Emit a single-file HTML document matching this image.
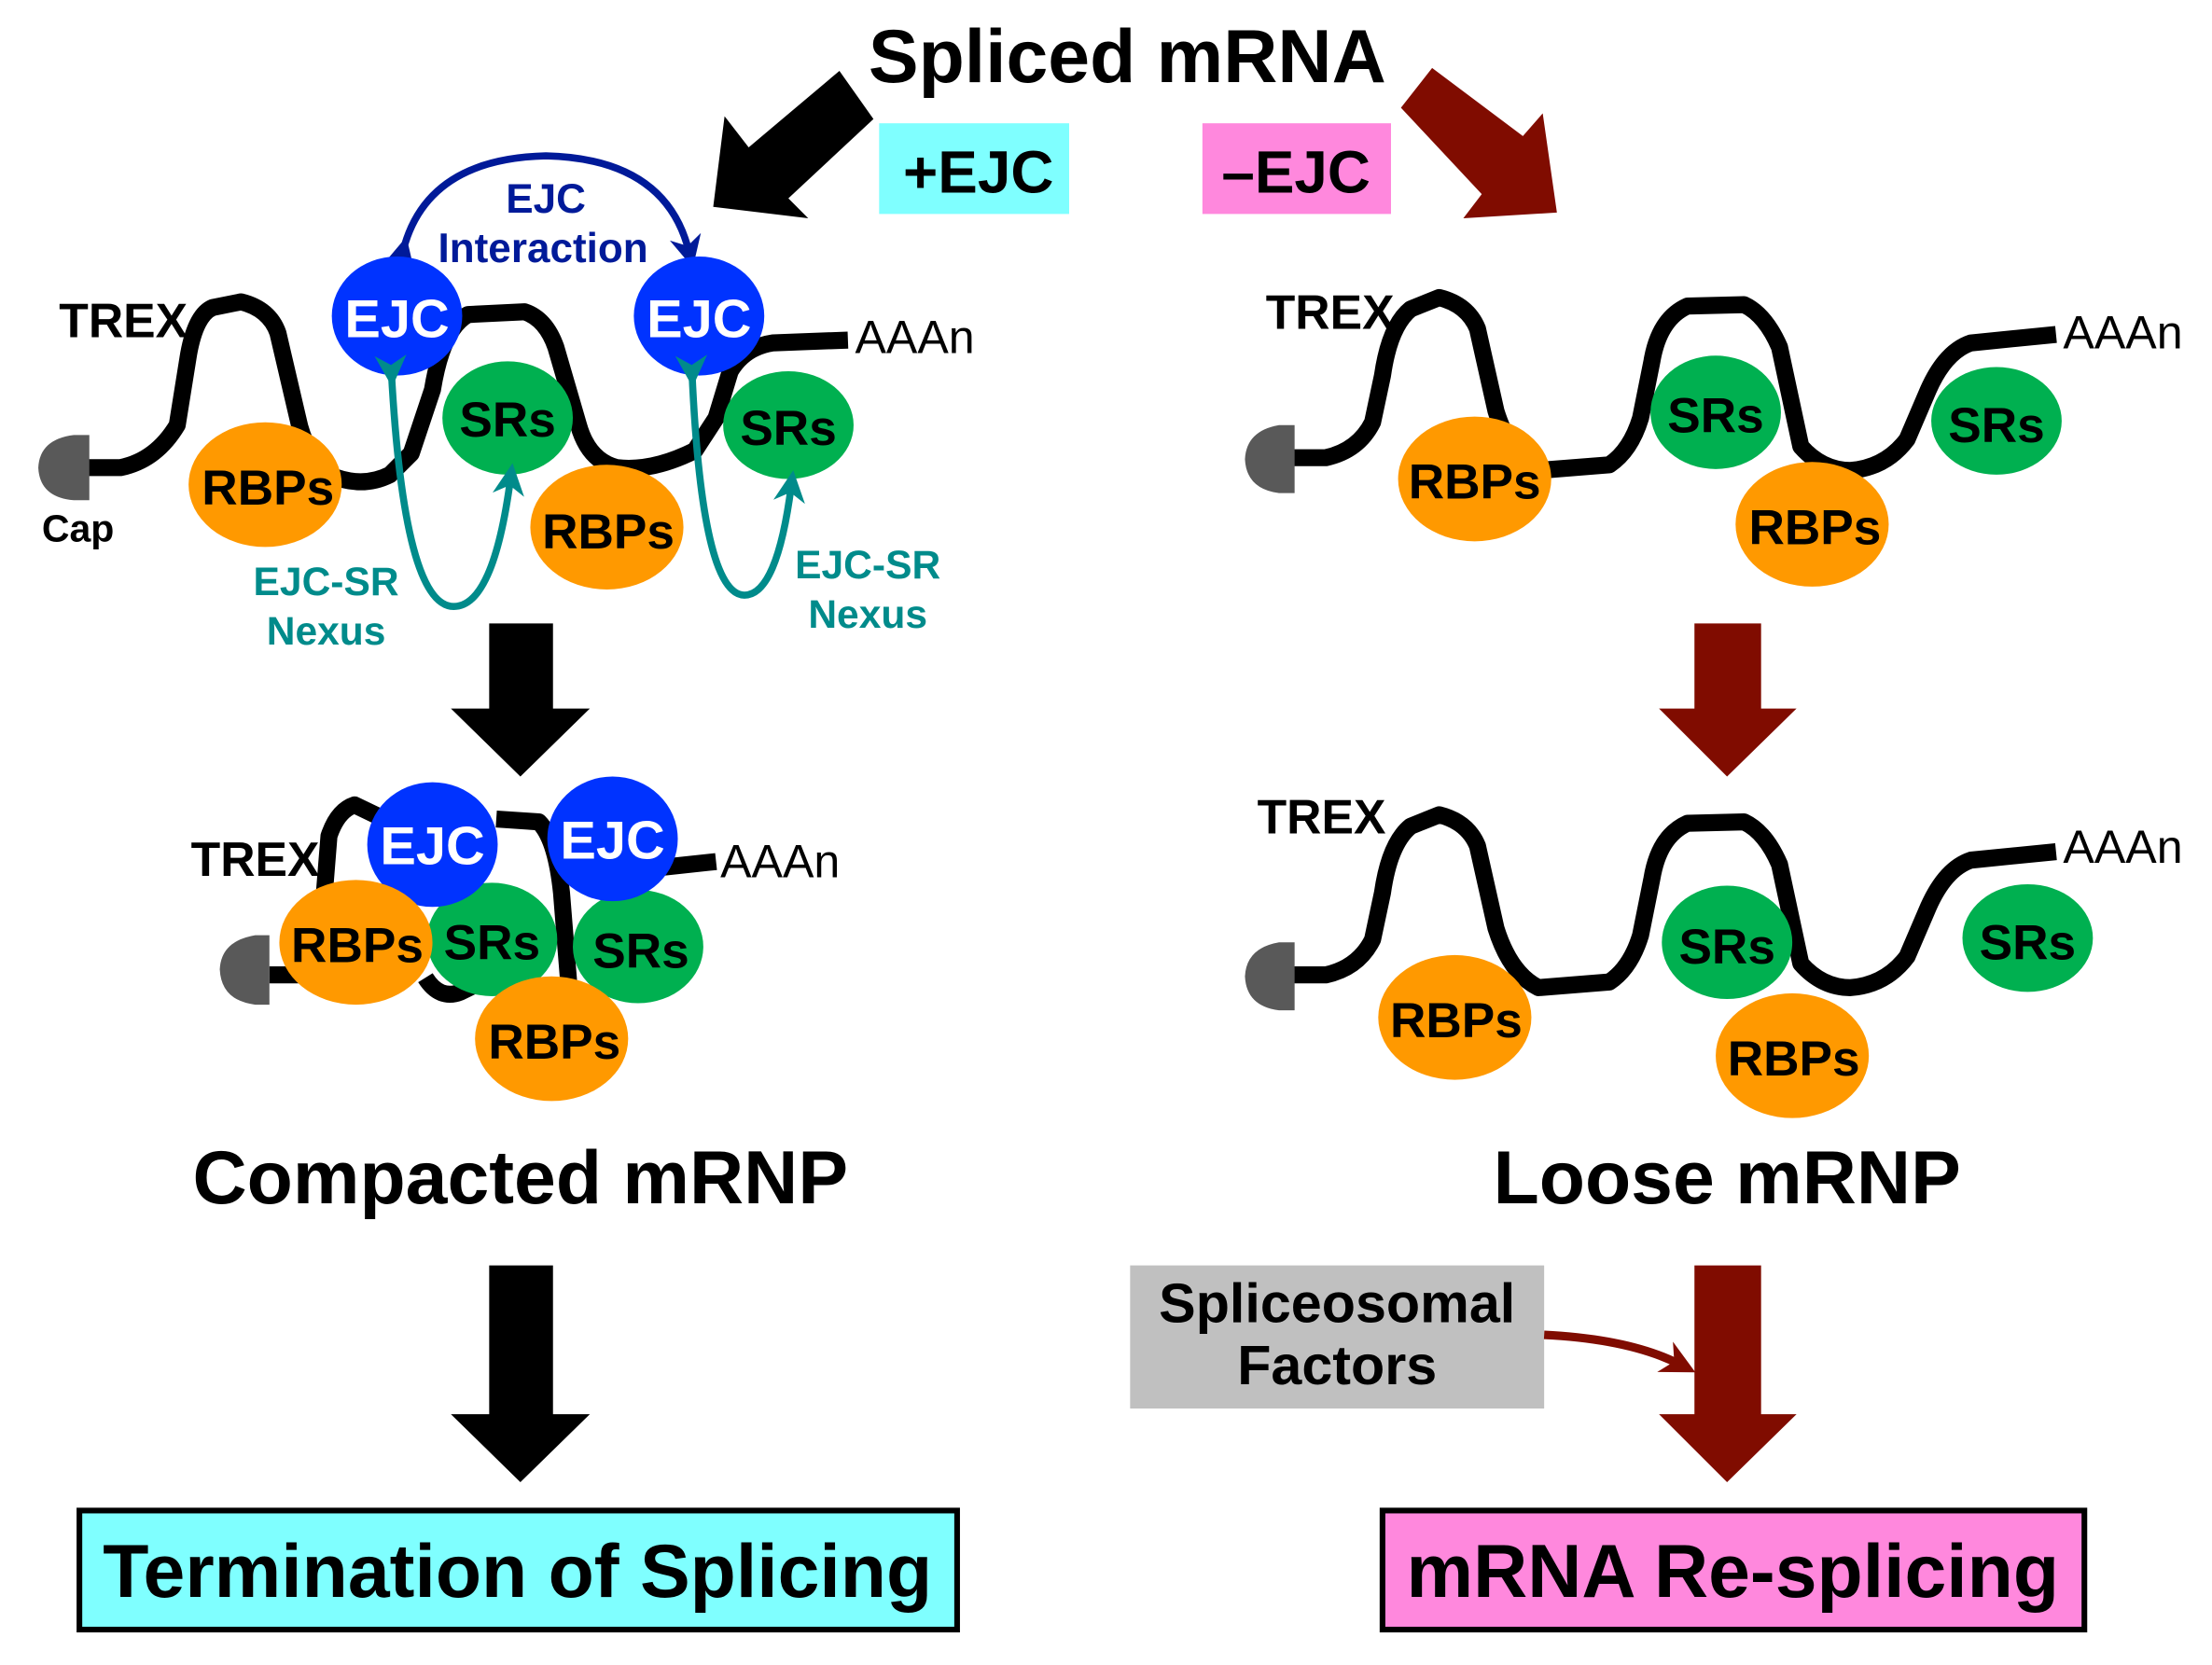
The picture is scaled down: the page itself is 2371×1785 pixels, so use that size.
<!DOCTYPE html>
<html><head><meta charset="utf-8"><style>
html,body{margin:0;padding:0;background:#fff;}
svg{display:block;}
text{font-family:"Liberation Sans",Arial,sans-serif;font-weight:bold;}
</style></head><body>
<svg width="2371" height="1785" viewBox="0 0 1560 1175" preserveAspectRatio="none" xmlns="http://www.w3.org/2000/svg">
<defs>
<marker id="nv" viewBox="0 0 10 10" refX="5" refY="5" markerWidth="4.5" markerHeight="4.5" orient="auto"><path d="M0,0 L10,5 L0,10 L3,5 z" fill="#001a99"/></marker>
<marker id="tl" viewBox="0 0 10 10" refX="5" refY="5" markerWidth="4.5" markerHeight="4.5" orient="auto"><path d="M0,0 L10,5 L0,10 L3,5 z" fill="#008b8b"/></marker>
<marker id="rd" viewBox="0 0 10 10" refX="5" refY="5" markerWidth="4" markerHeight="4" orient="auto"><path d="M0,0 L10,5 L0,10 L3,5 z" fill="#800c00"/></marker>
</defs>

<text x="795" y="58" font-size="53" text-anchor="middle">Spliced mRNA</text>
<polygon points="592,50 616,84 556,140 570,154 503,146 511,82 528,104" fill="#000"/>
<polygon points="988,76 1010,48 1074,96 1088,80 1098,150 1032,154 1045,137" fill="#800c00"/>
<rect x="620" y="87" width="134" height="64" fill="#7fffff"/>
<text x="690" y="136" font-size="42" text-anchor="middle">+EJC</text>
<rect x="848" y="87" width="133" height="64" fill="#ff88dd"/>
<text x="914" y="136" font-size="42" text-anchor="middle">–EJC</text>

<!-- LEFT TOP -->
<path d="M60,330 L85,330 Q110,325 125,300 L133,250 Q138,222 150,217 L170,213 Q190,218 196,235 L210,295 Q215,320 232,335 Q255,345 275,335 L290,320 L305,275 Q312,232 330,222 L370,220 Q385,225 392,245 L408,300 Q415,325 435,330 Q460,333 490,318 L505,295 L515,262 Q525,245 545,242 L598,240" fill="none" stroke="#000" stroke-width="12" stroke-linejoin="round"/>
<path d="M63,307 L52,307 Q28,310 27,330 Q28,351 52,353 L63,353 Z" fill="#595959"/>
<text x="87" y="238" font-size="34" text-anchor="middle">TREX</text>
<text x="55" y="382" font-size="27" text-anchor="middle">Cap</text>
<text x="603" y="249" font-size="33" style="font-weight:normal">AAAn</text>
<path d="M284,178 Q300,112 385,110 Q470,112 486,178" fill="none" stroke="#001a99" stroke-width="5" marker-end="url(#nv)" marker-start="url(#nv)"/>
<ellipse cx="187" cy="342" rx="54" ry="44" fill="#ff9900"/>
<ellipse cx="428" cy="372" rx="54" ry="44" fill="#ff9900"/>
<ellipse cx="358" cy="295" rx="46" ry="40" fill="#00b050"/>
<ellipse cx="556" cy="300" rx="46" ry="38" fill="#00b050"/>
<ellipse cx="280" cy="223" rx="46" ry="42" fill="#0033ff"/>
<ellipse cx="493" cy="223" rx="46" ry="42" fill="#0033ff"/>
<text x="280" y="238" font-size="38" fill="#fff" text-anchor="middle">EJC</text>
<text x="493" y="238" font-size="38" fill="#fff" text-anchor="middle">EJC</text>
<text x="358" y="308" font-size="35" text-anchor="middle">SRs</text>
<text x="556" y="314" font-size="35" text-anchor="middle">SRs</text>
<text x="189" y="356" font-size="35" text-anchor="middle">RBPs</text>
<text x="429" y="387" font-size="35" text-anchor="middle">RBPs</text>
<text x="385" y="150" font-size="29" fill="#001a99" text-anchor="middle">EJC</text>
<text x="383" y="185" font-size="29" fill="#001a99" text-anchor="middle">Interaction</text>
<path d="M276,262 Q285,428 320,428 Q348,428 360,338" fill="none" stroke="#008b8b" stroke-width="5" marker-start="url(#tl)" marker-end="url(#tl)"/>
<path d="M488,262 Q495,420 525,420 Q548,420 558,343" fill="none" stroke="#008b8b" stroke-width="5" marker-start="url(#tl)" marker-end="url(#tl)"/>
<text x="230" y="420" font-size="28" fill="#008b8b" text-anchor="middle">EJC-SR</text>
<text x="230" y="455" font-size="28" fill="#008b8b" text-anchor="middle">Nexus</text>
<text x="612" y="408" font-size="28" fill="#008b8b" text-anchor="middle">EJC-SR</text>
<text x="612" y="443" font-size="28" fill="#008b8b" text-anchor="middle">Nexus</text>

<polygon points="345,440 390,440 390,500 416,500 367,548 318,500 345,500" fill="#000"/>

<!-- COMPACTED -->
<path d="M190,688 L210,688 L228,640 L232,590 Q238,572 250,568 L275,580 M300,690 Q310,706 325,700 L345,690 M350,578 L380,580 Q392,592 396,630 L402,705 M468,612 L505,608" fill="none" stroke="#000" stroke-width="12" stroke-linejoin="round"/>
<path d="M190,660 L180,660 Q156,664 155,684 Q156,706 180,709 L190,709 Z" fill="#595959"/>
<text x="180" y="618" font-size="34" text-anchor="middle">TREX</text>
<text x="508" y="619" font-size="33" style="font-weight:normal">AAAn</text>
<ellipse cx="347" cy="663" rx="46" ry="40" fill="#00b050"/>
<ellipse cx="450" cy="668" rx="46" ry="40" fill="#00b050"/>
<ellipse cx="305" cy="596" rx="46" ry="44" fill="#0033ff"/>
<ellipse cx="432" cy="592" rx="46" ry="44" fill="#0033ff"/>
<ellipse cx="251" cy="665" rx="54" ry="44" fill="#ff9900"/>
<ellipse cx="389" cy="733" rx="54" ry="44" fill="#ff9900"/>
<text x="305" y="610" font-size="38" fill="#fff" text-anchor="middle">EJC</text>
<text x="432" y="606" font-size="38" fill="#fff" text-anchor="middle">EJC</text>
<text x="347" y="677" font-size="35" text-anchor="middle">SRs</text>
<text x="452" y="683" font-size="35" text-anchor="middle">SRs</text>
<text x="252" y="679" font-size="35" text-anchor="middle">RBPs</text>
<text x="391" y="747" font-size="35" text-anchor="middle">RBPs</text>

<text x="367" y="849" font-size="53" text-anchor="middle">Compacted mRNP</text>
<polygon points="345,893 390,893 390,998 416,998 367,1046 318,998 345,998" fill="#000"/>
<rect x="56" y="1066" width="619" height="84" fill="#7fffff" stroke="#000" stroke-width="4"/>
<text x="365" y="1127" font-size="53" text-anchor="middle">Termination of Splicing</text>

<!-- RIGHT -->
<g id="loose">
<path d="M912,323 L935,323 Q958,318 968,298 L975,265 Q980,230 995,218 L1015,210 Q1035,215 1042,232 L1055,290 Q1065,322 1085,332 L1135,328 Q1150,318 1157,295 L1165,255 Q1170,225 1190,216 L1230,215 Q1245,222 1255,245 L1270,315 Q1285,332 1305,332 Q1330,330 1345,310 L1360,275 Q1372,248 1390,242 L1450,236" fill="none" stroke="#000" stroke-width="12" stroke-linejoin="round"/>
<path d="M913,300 L902,300 Q879,304 878,324 Q879,345 902,348 L913,348 Z" fill="#595959"/>
</g>
<text x="938" y="232" font-size="34" text-anchor="middle">TREX</text>
<text x="1455" y="246" font-size="33" style="font-weight:normal">AAAn</text>
<ellipse cx="1040" cy="338" rx="54" ry="44" fill="#ff9900"/>
<ellipse cx="1278" cy="370" rx="54" ry="44" fill="#ff9900"/>
<ellipse cx="1210" cy="291" rx="46" ry="40" fill="#00b050"/>
<ellipse cx="1408" cy="297" rx="46" ry="38" fill="#00b050"/>
<text x="1210" y="305" font-size="35" text-anchor="middle">SRs</text>
<text x="1408" y="312" font-size="35" text-anchor="middle">SRs</text>
<text x="1040" y="352" font-size="35" text-anchor="middle">RBPs</text>
<text x="1280" y="384" font-size="35" text-anchor="middle">RBPs</text>

<polygon points="1195,440 1242,440 1242,500 1267,500 1218,548 1170,500 1195,500" fill="#800c00"/>

<use href="#loose" transform="translate(0,365)"/>
<text x="932" y="588" font-size="34" text-anchor="middle">TREX</text>
<text x="1455" y="609" font-size="33" style="font-weight:normal">AAAn</text>
<ellipse cx="1026" cy="718" rx="54" ry="44" fill="#ff9900"/>
<ellipse cx="1264" cy="745" rx="54" ry="44" fill="#ff9900"/>
<ellipse cx="1218" cy="665" rx="46" ry="40" fill="#00b050"/>
<ellipse cx="1430" cy="662" rx="46" ry="38" fill="#00b050"/>
<text x="1218" y="680" font-size="35" text-anchor="middle">SRs</text>
<text x="1430" y="677" font-size="35" text-anchor="middle">SRs</text>
<text x="1027" y="732" font-size="35" text-anchor="middle">RBPs</text>
<text x="1265" y="759" font-size="35" text-anchor="middle">RBPs</text>

<text x="1218" y="849" font-size="53" text-anchor="middle">Loose mRNP</text>
<polygon points="1195,893 1242,893 1242,998 1267,998 1218,1046 1170,998 1195,998" fill="#800c00"/>
<rect x="797" y="893" width="292" height="101" fill="#c0c0c0"/>
<text x="943" y="933" font-size="39" text-anchor="middle">Spliceosomal</text>
<text x="943" y="977" font-size="39" text-anchor="middle">Factors</text>
<path d="M1089,942 Q1150,945 1185,963" fill="none" stroke="#800c00" stroke-width="6" marker-end="url(#rd)"/>
<rect x="975" y="1066" width="495" height="84" fill="#ff88dd" stroke="#000" stroke-width="4"/>
<text x="1222" y="1127" font-size="53" text-anchor="middle">mRNA Re-splicing</text>
</svg>
</body></html>
